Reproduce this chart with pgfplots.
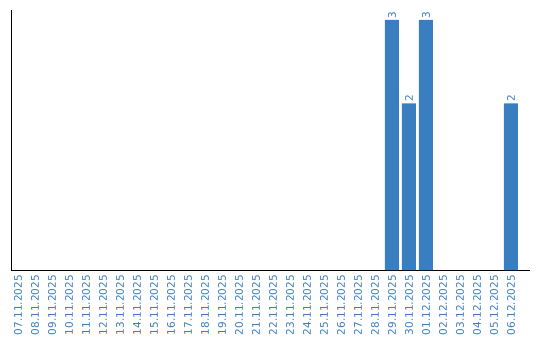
\documentclass[border=0pt]{standalone}
\usepackage{pgfplots}
\pgfplotsset{compat=1.18}
\usepackage{fontspec}
\setmainfont{DejaVu Sans}
\definecolor{barblue}{HTML}{3A7EC2}
\definecolor{lblblue}{HTML}{3A7DC0}
\begin{document}
\begin{tikzpicture}[x=1pt,y=1pt]
\useasboundingbox (-11pt,-70pt) rectangle (529pt,270pt);
\begin{axis}[
  at={(0pt,0pt)}, anchor=south west,
  scale only axis, width=519pt, height=260pt,
  xmin=-0.41, xmax=30.12, ymin=0, ymax=3.12,
  axis lines*=left, axis line style={black, line width=1pt, -},
  ytick=\empty,
  xtick={0,...,29},
  major tick length=0pt,
  /pgf/number format/assume math mode=true,
  xticklabels={07.11.2025,08.11.2025,09.11.2025,10.11.2025,11.11.2025,12.11.2025,13.11.2025,14.11.2025,15.11.2025,16.11.2025,17.11.2025,18.11.2025,19.11.2025,20.11.2025,21.11.2025,22.11.2025,23.11.2025,24.11.2025,25.11.2025,26.11.2025,27.11.2025,28.11.2025,29.11.2025,30.11.2025,01.12.2025,02.12.2025,03.12.2025,04.12.2025,05.12.2025,06.12.2025},
  xticklabel style={rotate=90, anchor=east, font=\fontsize{10.5}{11}\selectfont, text=lblblue, inner sep=0pt, xshift=-5pt},
  nodes near coords={\fontsize{10.5}{11}\selectfont\pgfmathprintnumber{\pgfplotspointmeta}},
  nodes near coords style={rotate=90, anchor=west, text=lblblue, inner sep=1.5pt},
  clip=false,
]
\addplot[ybar, bar width=14pt, fill=barblue, draw=none] coordinates {(22,3) (23,2) (24,3) (29,2)};
\end{axis}
\end{tikzpicture}
\end{document}
